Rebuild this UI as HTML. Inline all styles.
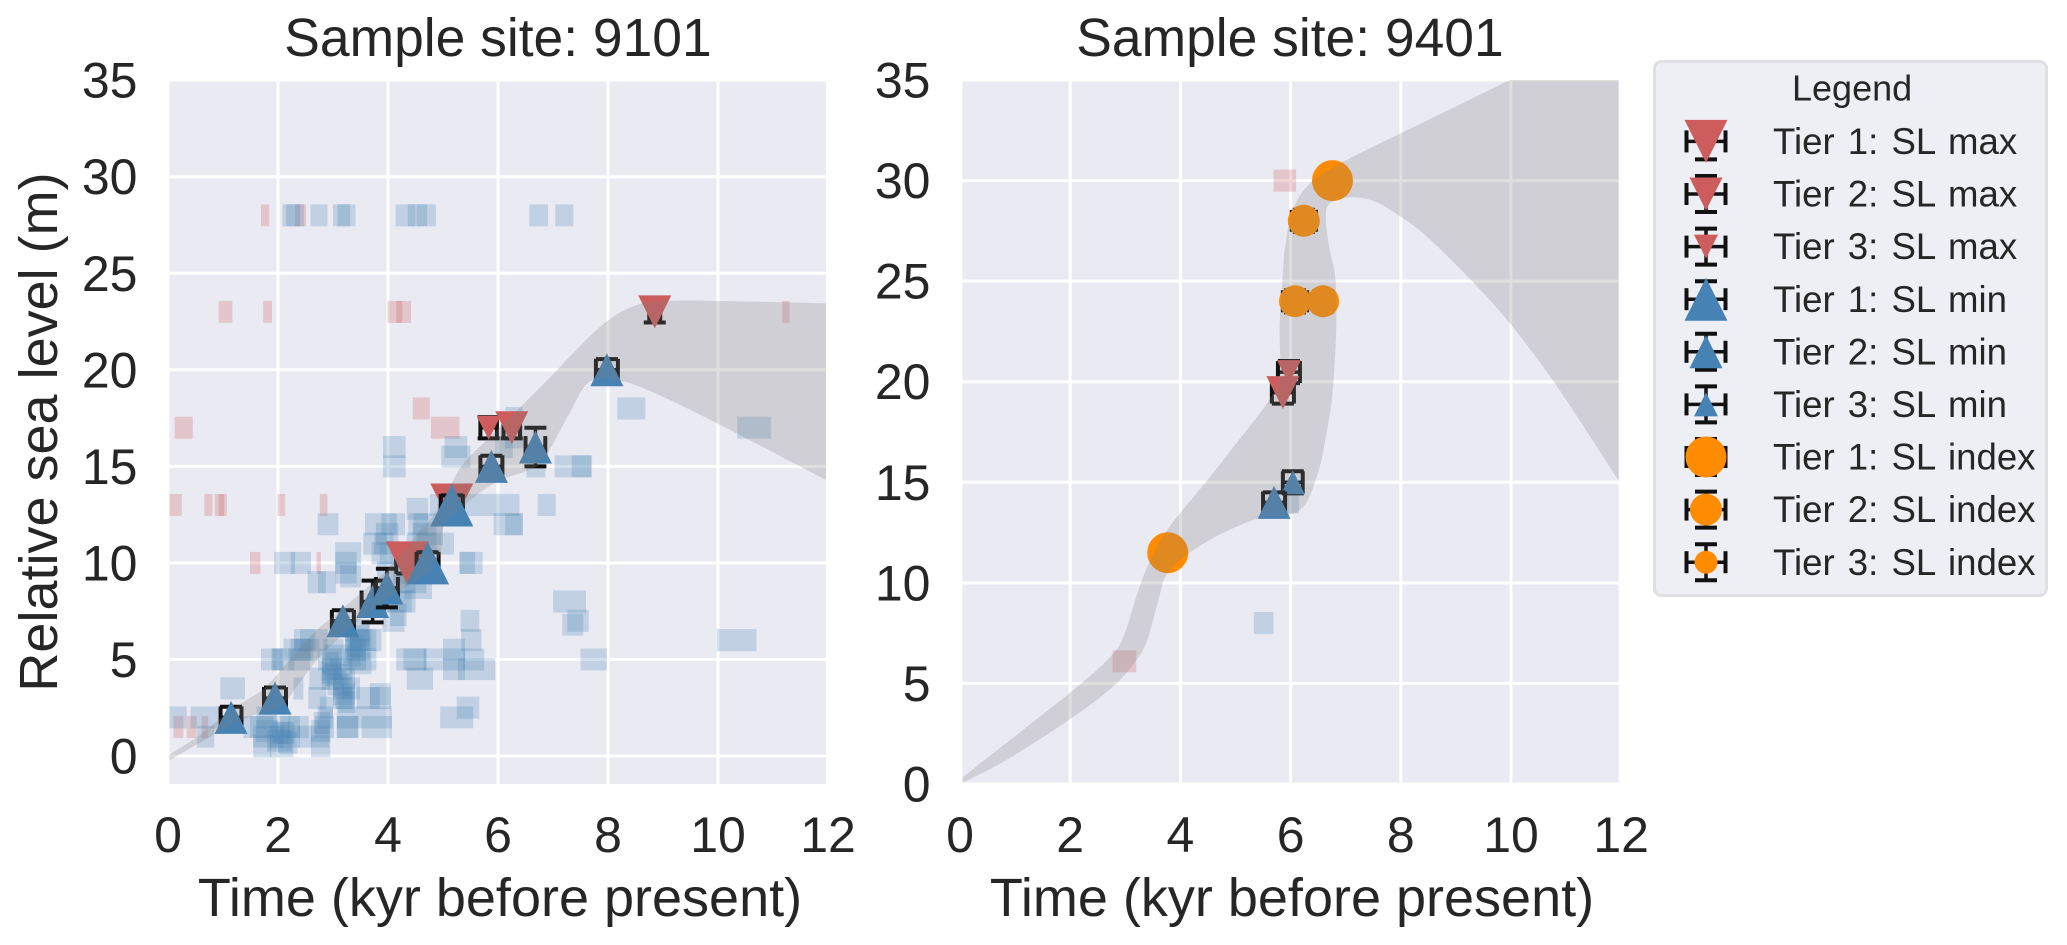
<!DOCTYPE html>
<html lang="en">
<head>
<meta charset="utf-8">
<title>Relative sea level at sample sites 9101 and 9401</title>
<style>
html,body{margin:0;padding:0;background:#fff;width:2067px;height:945px;overflow:hidden}
svg{display:block}
text{font-family:"Liberation Sans",Arial,sans-serif;fill:#262626}
</style>
</head>
<body>
<svg id="fig" xmlns="http://www.w3.org/2000/svg" width="2067" height="945" viewBox="0 0 2067 945">
  <defs>
    <clipPath id="clip-a"><rect x="169.5" y="80" width="656.5" height="704"/></clipPath>
    <clipPath id="clip-b"><rect x="962.5" y="80" width="656.2" height="704"/></clipPath>
  </defs>
  <g id="panel-a"></g>
  <g id="panel-b"></g>
  <text x="498" y="56" font-size="53.4" text-anchor="middle">Sample site: 9101</text>
  <text x="1290" y="56" font-size="53.4" text-anchor="middle">Sample site: 9401</text>
  <text x="500" y="916" font-size="54" text-anchor="middle">Time (kyr before present)</text>
  <text x="1292" y="916" font-size="54" text-anchor="middle">Time (kyr before present)</text>
  <text transform="translate(57,432) rotate(-90)" font-size="54" text-anchor="middle">Relative sea level (m)</text>
  <g id="legend">
    <rect x="1654.5" y="61.5" width="392" height="534" rx="7" ry="7" fill="#EEEEF5" stroke="#E0E0E3" stroke-width="3"/>
    <text x="1792" y="100.7" font-size="36">Legend</text>
  </g>
</svg>
<script>
// Axis tick labels
const xTickValues = [0, 2, 4, 6, 8, 10, 12];
const yTickValues = [0, 5, 10, 15, 20, 25, 30, 35];

// Site 9101: sample boxes as [age low, age high, elevation]
const site9101BlueBoxes = [
[5.40,5.79,13],[5.79,6.39,13],[6.72,7.05,13],[4.76,5.16,13],[4.34,4.73,12.8],
[2.72,3.10,12],[3.58,4.16,12],[3.88,4.31,12],[4.37,4.73,12],[4.46,4.88,12],[5.92,6.45,12],[6.13,6.45,12],
[3.78,4.19,11.5],[3.55,3.98,11],[4.34,4.88,11],[4.52,5.2,11],[3.04,3.51,10.5],[3.85,4.22,10.5],
[1.93,2.31,10],[2.23,2.6,10],[3.04,3.43,10],[5.3,5.58,10],[5.3,5.72,10],[3.04,3.43,9.5],
[2.54,2.87,9],[2.73,3.05,9],[3.13,3.51,9.3],[4.19,4.7,9],[3.85,4.43,8],[4.04,4.34,7.3],
[5.32,5.66,7],[2.29,2.68,6],[3.22,3.88,6],[3.31,3.79,6],[5.33,5.7,6],[3.22,3.67,6.5],[3.3,3.7,6],
[2.23,2.64,5.5],[2.82,3.19,5.5],[3.31,3.67,5.5],[3.22,3.6,5.5],[5.0,5.4,5.5],
[1.69,2.08,5],[1.88,2.1,5],[2.19,2.58,5],[2.73,3.16,5],[3.19,3.79,5],[3.25,3.6,5],[4.15,4.7,5],[4.28,4.7,5],[4.65,5.0,5],[5.0,5.4,5],[5.37,5.75,5],
[5.27,5.95,4.5],[2.79,3.16,4.5],[5.0,5.4,4.5],[2.57,2.95,4],[2.79,3.19,4],[3.0,3.4,4],[4.34,4.82,4],[2.8,3.15,4.3],
[0.95,1.4,3.5],[2.28,2.46,3.5],[3.16,3.49,3.5],[3.0,3.35,3.5],[3.67,4.05,3.2],
[2.55,2.88,3],[3.0,3.38,3],[3.43,3.85,3],[3.67,4.05,3],[3.1,3.4,2.8],[5.25,5.66,2.5],[2.76,3.0,2.5],
[0.02,0.34,2],[0.41,0.92,2],[1.61,1.98,2],[4.95,5.55,2],[3.07,3.52,2],[3.52,4.07,2],
[1.37,1.73,1.5],[1.49,1.92,1.5],[1.73,2.22,1.5],[2.04,2.4,1.5],[2.19,2.56,1.5],[3.07,3.46,1.5],[3.52,4.07,1.5],[2.67,3.02,1.5],[2.72,3.0,2],[3.07,3.46,1.5],
[0.53,0.84,1],[1.55,2.1,1],[1.85,2.4,1],[2.37,2.61,1],[2.6,2.93,1],[1.55,1.88,0.5],[1.85,2.28,0.5],[2.6,2.95,0.5],[1.95,2.2,1.2],
[2.4,2.9,6],[2.3,2.75,5.5],[1.9,2.3,5],[2.1,2.6,5.5],
[3.8,4.3,9.5],[4.1,4.5,9],[4.3,4.8,8.7],[4.0,4.5,8],[3.9,4.3,7],[4.3,4.7,9.5],[3.7,4.2,10.5],[3.75,4.1,11],[4.45,5,11.5],[4.9,5.4,12.5],
[3.3,3.65,6.2],[3.25,3.55,5.7],[3.2,3.5,5.2],[3.3,3.7,4.8],[2.95,3.35,4.5],[2.85,3.25,4.2],[2.9,3.3,3.7],[3.0,3.4,3.2],[3.05,3.35,3],[2.8,3.1,4.8],[2.85,3.2,5.2],
[1.9,2.3,1.2],[1.8,2.25,0.8],[2.0,2.35,0.7],[2.6,2.95,1.3],[2.65,2.95,1.7],[1.6,2.0,1.3],
[2.08,2.47,28],[2.15,2.4,28],[2.59,2.9,28],[3.0,3.41,28],[3.08,3.31,28],[4.14,4.5,28],[4.36,4.71,28],[4.52,4.87,28],[6.57,6.91,28],[7.04,7.37,28],
[8.17,8.68,18],[10.35,10.96,17],[6.13,6.45,17.5],[6.13,6.45,16.5],[5.95,6.27,16],
[3.91,4.32,16],[3.91,4.32,15],[5.03,5.44,16],[4.97,5.5,15.5],[6.52,6.86,15],[7.03,7.71,15],[7.34,7.69,15],
[7.0,7.6,8],[7.26,7.65,7],[7.17,7.55,6.8],[7.5,7.98,5],[9.98,10.7,6]
];
const site9101RedBoxes = [
[0.02,0.25,13],[0.66,0.81,13],[0.85,1.02,13],[0.92,1.07,13],[1.99,2.13,13],[2.76,2.9,13],
[1.49,1.68,10],[2.7,2.78,10],[0.1,0.28,1.5],[0.34,0.52,1.5],[0.61,0.73,1.5],
[0.92,1.17,23],[1.73,1.89,23],[3.99,4.26,23],[4.15,4.42,23],[11.17,11.3,23],
[1.69,1.84,28],[2.31,2.51,28],[4.45,4.76,18],[0.12,0.45,17],[4.78,4.96,17],[4.96,5.3,17]
];
// Site 9101: points as [kind, tier, age, elevation, age error, elevation error]
const site9101Points = [
['max',3,5.83,17,0.15,0.55],
['min',2,1.146,2,0.19,0.55],['min',2,1.945,3,0.2,0.55],['min',2,3.18,7,0.2,0.55],['min',2,3.72,8,0.2,1.08],['min',2,3.98,8.7,0.2,1.0],
['min',2,5.88,15,0.2,0.55],['min',2,6.68,16,0.18,1.0],['min',2,7.98,20,0.2,0.55],
['max',2,8.85,23,0.1,0.55],['max',2,6.25,17,0.15,0.55],
['max',1,5.16,13,0.2,0.5],['max',1,4.35,10,0.2,0.55],
['min',1,4.72,10,0.2,0.55],['min',1,5.16,13,0.2,0.5]
];
// Site 9101: uncertainty band edges
const site9101UpperAge = [0.02,0.58,1.19,1.67,1.95,2.58,3.07,3.61,4.04,4.52,4.95,5.19,5.43,6.17,6.9,7.79,8.44,9.25,11.96,12.2];
const site9101UpperElev = [0.05,1.09,2.47,3.33,4.11,6.18,7.39,8.69,9.81,11.45,12.92,14.3,15.33,17.4,19.47,22.06,23.27,23.58,23.44,23.4];
const site9101LowerAge = [0.02,0.88,1.49,2.04,2.34,2.76,3.31,3.79,4.34,4.7,4.95,5.01,5.43,5.98,6.64,6.9,7.3,7.67,8.28,9.0,10.22,11.96,12.2];
const site9101LowerElev = [-0.24,1.17,2.04,2.56,3.59,5.15,6.61,7.74,8.77,9.46,10.5,11.88,13.09,14.2,14.9,15.67,17.75,19.39,19.39,18.6,16.88,14.3,14];

// Site 9401
const site9401BlueBoxes = [[5.33,5.69,8],[5.88,6.15,14]];
const site9401RedBoxes = [[5.69,6.1,30],[2.77,3.2,6.1]];
const site9401Points = [
['max',3,5.97,20.48,0.2,0.55],['min',3,6.04,15,0.18,0.55],
['max',2,5.86,19.46,0.2,0.55],['min',2,5.7,14,0.2,0.5],
['index',2,6.24,28,0.22,0.55],['index',2,6.08,24,0.22,0.55],['index',2,6.59,24,0.12,0.5],
['index',1,6.76,30,0.2,0.5],['index',1,3.77,11.5,0.2,0.5]
];
const site9401UpperAge = [0,0.05,2.02,2.73,2.97,3.2,3.4,3.76,4.54,5.06,5.57,5.8,5.8,5.86,5.9,6.04,6.35,6.9,8.0,9.98,12.2];
const site9401UpperElev = [0,0.33,4.59,6.33,7.33,9.31,10.8,12.63,15.28,17.1,18.93,20.25,22.74,25.39,26.7,28.54,29.86,30.86,32.35,35,38];
const site9401LowerAge = [0,0.84,2.02,2.81,3.2,3.4,3.6,3.76,4.15,4.7,5.41,5.96,6.28,6.51,6.63,6.76,6.83,6.81,6.71,6.64,6.71,7.1,7.54,8.0,8.48,9.27,9.98,10.84,11.95,12.2];
const site9401LowerElev = [0,1.19,3.26,4.92,6.16,7.16,9.15,10.47,11.47,12.38,13.2,13.37,13.95,15.6,17.1,19.42,22.74,25.22,26.55,28.04,28.87,29.17,28.95,28.2,27.2,25.06,22.9,19.75,15.1,14];

// Legend entries
const legendKinds = ['max','max','max','min','min','min','index','index','index'];
const legendTiers = [1,2,3,1,2,3,1,2,3];
const legendLabels = ['Tier 1: SL max','Tier 2: SL max','Tier 3: SL max','Tier 1: SL min','Tier 2: SL min','Tier 3: SL min','Tier 1: SL index','Tier 2: SL index','Tier 3: SL index'];

const NS = 'http://www.w3.org/2000/svg';
const BOX_HALF_HEIGHT_PX = 11;
const TRI_SIZE = {1:43, 2:33, 3:24};
const DOT_SIZE = {1:41, 2:32, 3:23};
const KIND_COLOR = {max:'#CD5C5C', min:'#4682B4', index:'#FF8C00'};

function make(tag, attrs, parent) {
  const el = document.createElementNS(NS, tag);
  for (const k in attrs) el.setAttribute(k, attrs[k]);
  parent.appendChild(el);
  return el;
}

function smoothPath(pts) {
  let d = 'M' + pts[0][0].toFixed(1) + ',' + pts[0][1].toFixed(1);
  const t = 0.16;
  for (let i = 0; i < pts.length - 1; i++) {
    const p0 = pts[Math.max(i - 1, 0)], p1 = pts[i], p2 = pts[i + 1], p3 = pts[Math.min(i + 2, pts.length - 1)];
    const c1 = [p1[0] + (p2[0] - p0[0]) * t, p1[1] + (p2[1] - p0[1]) * t];
    const c2 = [p2[0] - (p3[0] - p1[0]) * t, p2[1] - (p3[1] - p1[1]) * t];
    d += 'C' + c1[0].toFixed(1) + ',' + c1[1].toFixed(1) + ' ' + c2[0].toFixed(1) + ',' + c2[1].toFixed(1) + ' ' + p2[0].toFixed(1) + ',' + p2[1].toFixed(1);
  }
  return d;
}

function drawCaps(g, cx, cy, hx, hy) {
  const seg = (x1, y1, x2, y2, w) => {
    const line = make('line', {x1: x1, y1: y1, x2: x2, y2: y2, stroke: '#111', 'stroke-width': w}, g);
    
    
  };
  seg(cx - hx, cy, cx + hx, cy, 3.5);
  seg(cx, cy - hy, cx, cy + hy, 3.5);
  seg(cx - 11, cy - hy, cx + 11, cy - hy, 4);
  seg(cx - 11, cy + hy, cx + 11, cy + hy, 4);
  seg(cx - hx, cy - 11, cx - hx, cy + 11, 4);
  seg(cx + hx, cy - 11, cx + hx, cy + 11, 4);
}

function drawMarker(g, kind, tier, cx, cy) {
  let m;
  if (kind === 'index') {
    m = make('circle', {cx: cx, cy: cy, r: DOT_SIZE[tier] / 2, fill: KIND_COLOR[kind]}, g);
    
    
  } else {
    const s = TRI_SIZE[tier] / 2;
    const pts = kind === 'max'
      ? [[cx - s, cy - s], [cx + s, cy - s], [cx, cy + s]]
      : [[cx - s, cy + s], [cx + s, cy + s], [cx, cy - s]];
    m = make('polygon', {points: pts.map(p => p.join(',')).join(' '), fill: KIND_COLOR[kind]}, g);
    
    
  }
}

function drawPanel(cfg) {
  const g = document.getElementById(cfg.id);
  const X = v => cfg.x0 + cfg.xUnit * v;
  const Y = v => cfg.y0 - cfg.yUnit * v;

  const bg = make('rect', {x: cfg.left, y: 80, width: cfg.right - cfg.left, height: 704, fill: '#EAEAF2'}, g);
  
  

  const plot = make('g', {'clip-path': 'url(#' + cfg.clip + ')'}, g);
  
  

  xTickValues.forEach(v => {
    const line = make('line', {x1: X(v), x2: X(v), y1: 80, y2: 784, stroke: '#fff', 'stroke-width': 3}, plot);
    
    
    const t = make('text', {x: X(v), y: 852, 'font-size': 50, 'text-anchor': 'middle'}, g);
    
    
    t.textContent = v;
  });
  yTickValues.forEach(v => {
    const line = make('line', {x1: cfg.left, x2: cfg.right, y1: Y(v), y2: Y(v), stroke: '#fff', 'stroke-width': 3}, plot);
    
    
    const t = make('text', {x: cfg.left - 32, y: Y(v) + 17.5, 'font-size': 50, 'text-anchor': 'end'}, g);
    
    
    t.textContent = v;
  });

  const boxHalf = BOX_HALF_HEIGHT_PX / cfg.yUnit;
  const drawBoxes = (list, color, name) => list.forEach(b => {
    const r = make('rect', {x: X(b[0]), y: Y(b[2] + boxHalf), width: X(b[1]) - X(b[0]), height: Y(b[2] - boxHalf) - Y(b[2] + boxHalf), fill: color, 'fill-opacity': 0.25}, plot);
    
    
  });
  drawBoxes(cfg.red, '#CD5C5C', 'sl-max-sample-box');
  drawBoxes(cfg.blue, '#4682B4', 'sl-min-sample-box');

  cfg.points.forEach(p => {
    const pg = make('g', {}, plot);
    
    
    drawCaps(pg, X(p[2]), Y(p[3]), p[4] * cfg.xUnit, p[5] * cfg.yUnit);
    drawMarker(pg, p[0], p[1], X(p[2]), Y(p[3]));
  });

  const upper = cfg.upperAge.map((a, i) => [X(a), Y(cfg.upperElev[i])]);
  const lower = cfg.lowerAge.map((a, i) => [X(a), Y(cfg.lowerElev[i])]);
  const d = smoothPath(upper) + 'L' + smoothPath(lower).slice(1) + 'Z';
  const band = make('path', {d: d, fill: '#808080', 'fill-opacity': 0.25}, plot);
  
  
}

drawPanel({
  id: 'panel-a', clip: 'clip-a', left: 169.5, right: 826,
  x0: 168, xUnit: 55, y0: 756, yUnit: 19.31,
  blue: site9101BlueBoxes, red: site9101RedBoxes, points: site9101Points,
  upperAge: site9101UpperAge, upperElev: site9101UpperElev,
  lowerAge: site9101LowerAge.slice().reverse(), lowerElev: site9101LowerElev.slice().reverse()
});
drawPanel({
  id: 'panel-b', clip: 'clip-b', left: 962.5, right: 1618.7,
  x0: 960, xUnit: 55.1, y0: 784, yUnit: 20.114,
  blue: site9401BlueBoxes, red: site9401RedBoxes, points: site9401Points,
  upperAge: site9401UpperAge, upperElev: site9401UpperElev,
  lowerAge: site9401LowerAge.slice().reverse(), lowerElev: site9401LowerElev.slice().reverse()
});

const legendG = document.getElementById('legend');
legendLabels.forEach((label, i) => {
  const cy = 141.4 + i * 52.6;
  const row = make('g', {}, legendG);
  
  
  drawCaps(row, 1706, cy, 19.5, 18);
  drawMarker(row, legendKinds[i], legendTiers[i], 1706, cy);
  const t = make('text', {x: 1773, y: cy + 12.6, 'font-size': 36.6, 'word-spacing': 3}, row);
  
  
  t.textContent = label;
});
</script>
</body>
</html>
